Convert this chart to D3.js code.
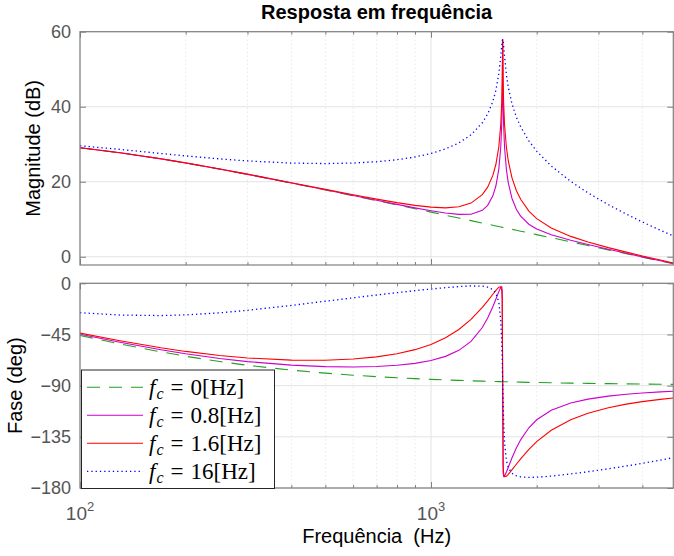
<!DOCTYPE html>
<html>
<head>
<meta charset="utf-8">
<script src="https://cdn.jsdelivr.net/npm/d3@7"></script>
<style>
  body { margin: 0; background: #fff; }
  svg { display: block; }
</style>
</head>
<body>
<div id="chart"></div>
<script>

// frequency points (Hz), dense around the 1.6 kHz resonance
var freqs = [100, 130, 170, 200, 250, 300, 400, 500, 600, 700, 800, 900, 1000, 1100, 1200, 1300, 1400, 1450,
  1500, 1530, 1560, 1580, 1590, 1595, 1600, 1605, 1610, 1620, 1640, 1660, 1700, 1750, 1800, 1900, 2000,
  2200, 2500, 2800, 3200, 3600, 4000, 4500, 4900];

// magnitude (dB)
var magFc0 = [29.06, 27.73, 26.10, 25.00, 23.37, 21.96, 19.65, 17.80, 16.26, 14.95, 13.81, 12.80, 11.90, 11.07,
  10.32, 9.63, 8.99, 8.69, 8.40, 8.22, 8.06, 7.95, 7.89, 7.87, 7.84, 7.81, 7.78, 7.73, 7.62, 7.52, 7.31, 7.06,
  6.82, 6.35, 5.90, 5.08, 3.97, 2.99, 1.83, 0.81, -0.11, -1.13, -1.87];
var magFc08 = [29.06, 27.73, 26.10, 25.01, 23.38, 21.97, 19.68, 17.84, 16.33, 15.06, 13.97, 13.04, 12.27, 11.65,
  11.29, 11.34, 12.38, 13.71, 16.24, 18.86, 23.38, 29.24, 35.18, 41.14, 58.0, 41.10, 35.14, 29.13, 23.15, 19.72,
  15.60, 12.66, 10.83, 8.68, 7.42, 5.88, 4.38, 3.25, 1.99, 0.92, -0.03, -1.07, -1.82];
var magFc16 = [29.07, 27.74, 26.12, 25.02, 23.41, 22.02, 19.75, 17.97, 16.53, 15.36, 14.42, 13.70, 13.22, 13.04,
  13.32, 14.31, 16.57, 18.56, 21.69, 24.59, 29.29, 35.22, 41.13, 46.90, 58.0, 46.86, 41.08, 35.11, 29.08, 25.54,
  21.11, 17.67, 15.32, 12.19, 10.17, 7.65, 5.43, 3.94, 2.44, 1.24, 0.21, -0.89, -1.68];
var magFc160 = [29.60, 28.62, 27.53, 26.89, 26.09, 25.54, 24.98, 24.84, 24.98, 25.33, 25.87, 26.59, 27.54, 28.75,
  30.34, 32.51, 35.72, 38.06, 41.40, 44.32, 48.75, 53.42, 56.34, 57.54, 58.0, 57.48, 56.25, 53.28, 48.50, 45.22,
  40.83, 37.24, 34.64, 30.88, 28.15, 24.20, 20.08, 17.03, 13.88, 11.37, 9.27, 7.07, 5.55];

// phase (deg)
var phaseFc0 = [-45.87, -53.27, -60.29, -64.13, -68.80, -72.08, -76.37, -79.02, -80.82, -82.11, -83.09, -83.85,
  -84.46, -84.96, -85.38, -85.73, -86.04, -86.17, -86.30, -86.37, -86.44, -86.49, -86.51, -86.52, -86.53, -86.54,
  -86.55, -86.57, -86.61, -86.66, -86.73, -86.83, -86.92, -87.08, -87.22, -87.48, -87.78, -88.02, -88.26, -88.46,
  -88.61, -88.77, -88.87];
var phaseFc08 = [-44.82, -51.91, -58.50, -62.01, -66.13, -68.84, -71.93, -73.27, -73.58, -73.16, -72.11, -70.42,
  -67.89, -64.25, -58.96, -51.02, -38.86, -30.55, -20.63, -14.04, -7.33, -3.49, -3.10, -5.97, -86.53, -167.06,
  -169.96, -169.61, -165.93, -161.76, -153.66, -144.87, -137.64, -127.04, -119.99, -111.59, -105.22, -101.85,
  -99.21, -97.58, -96.48, -95.50, -94.92];
var phaseFc16 = [-43.78, -50.54, -56.71, -59.90, -63.47, -65.63, -67.58, -67.66, -66.62, -64.69, -61.96, -58.35,
  -53.74, -47.90, -40.63, -31.68, -21.14, -15.42, -9.61, -6.27, -3.45, -3.08, -5.94, -13.26, -86.53, -159.76,
  -167.07, -169.97, -169.66, -168.04, -164.10, -159.11, -154.39, -146.09, -139.27, -129.26, -119.91, -114.21,
  -109.39, -106.26, -104.05, -102.05, -100.84];
var phaseFc160 = [-25.87, -27.90, -28.38, -27.79, -25.98, -23.76, -19.45, -15.77, -12.76, -10.29, -8.23, -6.50,
  -5.03, -3.82, -2.88, -2.31, -2.54, -3.35, -5.54, -8.67, -16.58, -32.43, -51.86, -67.49, -86.53, -105.51,
  -121.01, -140.30, -156.02, -162.14, -167.07, -169.31, -170.22, -170.68, -170.50, -169.53, -167.65, -165.69,
  -163.12, -160.65, -158.28, -155.46, -153.31];

var fcLabels = ["0", "0.8", "1.6", "16"];
var magTicks = [0, 20, 40, 60];
var phaseTicks = [0, -45, -90, -135, -180];
var decadeTicks = [100, 1000];
var decadeExp = ["2", "3"];
var minorTicks = [200, 300, 400, 500, 600, 700, 800, 900, 2000, 3000, 4000];

var magSeries = [magFc0, magFc08, magFc16, magFc160];
var phaseSeries = [phaseFc0, phaseFc08, phaseFc16, phaseFc160];

var styles = [
  {color: "#22a022", dash: "13,9", width: 1.1},
  {color: "#cc00cc", dash: null, width: 1.1},
  {color: "#ff0000", dash: null, width: 1.1},
  {color: "#0000ff", dash: "1.3,3", width: 1.3}
];

var width = 674, height = 556,
  left = 80, right = 673.3,
  axisGray = "#7f7f7f", labelGray = "#555",
  sansFont = "'Liberation Sans', Arial, sans-serif";

var x = d3.scaleLog().domain([100, 4900]).range([left, right]);
var yMag = d3.scaleLinear().domain([-2.2, 60]).range([265, 31.7]);
var yPhase = d3.scaleLinear().domain([-180, 0]).range([488, 283.3]);

var svg = d3.select("#chart").append("svg")
  .attr("width", width)
  .attr("height", height);

function panel(id, y, yTicks, values, xLabels) {
  var top = y.range()[1], bottom = y.range()[0];
  var g = svg.append("g");

  // grid
  g.append("g").selectAll("line").data(minorTicks).join("line")
    .attr("x1", d => x(d)).attr("x2", d => x(d))
    .attr("y1", top).attr("y2", bottom)
    .attr("stroke", "#d4d4d4").attr("stroke-width", 0.8).attr("stroke-dasharray", "1,3");
  g.append("g").selectAll("line").data(decadeTicks).join("line")
    .attr("x1", d => x(d)).attr("x2", d => x(d))
    .attr("y1", top).attr("y2", bottom)
    .attr("stroke", "#e3e3e3");
  g.append("g").selectAll("line").data(yTicks).join("line")
    .attr("x1", left).attr("x2", right)
    .attr("y1", d => y(d)).attr("y2", d => y(d))
    .attr("stroke", "#e3e3e3");

  svg.append("clipPath").attr("id", id)
    .append("rect")
    .attr("x", left).attr("y", top)
    .attr("width", right - left).attr("height", bottom - top);

  var line = d3.line()
    .x((d, i) => x(freqs[i]))
    .y(d => y(d));

  g.append("g").attr("clip-path", "url(#" + id + ")")
    .selectAll("path").data(values).join("path")
    .attr("d", d => line(d))
    .attr("fill", "none")
    .attr("stroke", (d, i) => styles[i].color)
    .attr("stroke-width", (d, i) => styles[i].width)
    .attr("stroke-dasharray", (d, i) => styles[i].dash);

  // ticks on all four sides, pointing in
  var yl = g.append("g").attr("transform", "translate(" + left + ",0)")
    .call(d3.axisLeft(y).tickValues(yTicks).tickSize(-6).tickPadding(9).tickSizeOuter(0));
  g.append("g").attr("transform", "translate(" + right + ",0)")
    .call(d3.axisRight(y).tickValues(yTicks).tickSize(-6).tickSizeOuter(0).tickFormat(""));
  [top, bottom].forEach(function (yy) {
    var major = yy === top ? d3.axisTop(x).tickSize(-6) : d3.axisBottom(x).tickSize(-6);
    var minor = yy === top ? d3.axisTop(x).tickSize(-3) : d3.axisBottom(x).tickSize(-3);
    g.append("g").attr("transform", "translate(0," + yy + ")")
      .call(major.tickValues(decadeTicks).tickSizeOuter(0).tickFormat(""));
    g.append("g").attr("transform", "translate(0," + yy + ")")
      .call(minor.tickValues(minorTicks).tickSizeOuter(0).tickFormat(""));
  });
  g.selectAll(".domain").remove();
  g.selectAll(".tick line").attr("stroke", axisGray);
  yl.selectAll(".tick text")
    .attr("fill", labelGray)
    .attr("font-family", sansFont)
    .attr("font-size", 18);

  g.append("rect")
    .attr("x", left).attr("y", top)
    .attr("width", right - left).attr("height", bottom - top)
    .attr("fill", "none")
    .attr("stroke", axisGray)
    .attr("stroke-width", 1.2);

  if (xLabels) {
    var lab = g.append("g").selectAll("text").data(decadeTicks).join("text")
      .attr("x", d => x(d))
      .attr("y", bottom + 32)
      .attr("text-anchor", "middle")
      .attr("fill", labelGray)
      .attr("font-family", sansFont)
      .attr("font-size", 19);
    lab.append("tspan").text("10");
    lab.append("tspan").attr("dy", -9).attr("font-size", 13).text((d, i) => decadeExp[i]);
  }
  return g;
}

panel("clipMag", yMag, magTicks, magSeries, false);
var bottomPanel = panel("clipPhase", yPhase, phaseTicks, phaseSeries, true);

// legend
var legend = bottomPanel.append("g");
legend.append("rect")
  .attr("x", 81.5).attr("y", 370)
  .attr("width", 193).attr("height", 118.5)
  .attr("fill", "#fff")
  .attr("stroke", "#262626")
  .attr("stroke-width", 1);

var rows = legend.selectAll("g.row").data(fcLabels).join("g")
  .attr("class", "row")
  .attr("transform", (d, i) => "translate(0," + (387.3 + i * 28) + ")");
rows.append("line")
  .attr("x1", 87).attr("x2", 143)
  .attr("stroke", (d, i) => styles[i].color)
  .attr("stroke-width", (d, i) => styles[i].width)
  .attr("stroke-dasharray", (d, i) => styles[i].dash);
var lt = rows.append("text")
  .attr("x", 149).attr("y", 8)
  .attr("font-family", "'Liberation Serif', 'Times New Roman', serif")
  .attr("font-size", 23)
  .attr("fill", "#000");
lt.append("tspan").attr("font-style", "italic").text("f");
lt.append("tspan").attr("font-style", "italic").attr("font-size", 16).attr("dx", 1).attr("dy", 4).text("c");
lt.append("tspan").attr("dx", 7).attr("dy", -4).text("=");
lt.append("tspan").attr("dx", 7).text(d => d + "[Hz]");

// labels
svg.append("text")
  .attr("x", (left + right) / 2).attr("y", 19)
  .attr("text-anchor", "middle")
  .attr("font-family", sansFont)
  .attr("font-weight", "bold")
  .attr("font-size", 20)
  .text("Resposta em frequência");

svg.append("text")
  .attr("x", (left + right) / 2).attr("y", 543)
  .attr("text-anchor", "middle")
  .attr("font-family", sansFont)
  .attr("font-size", 20)
  .text("Frequência  (Hz)")
  .style("white-space", "pre");

svg.append("text")
  .attr("transform", "translate(40," + (yMag.range()[0] + yMag.range()[1]) / 2 + ") rotate(-90)")
  .attr("text-anchor", "middle")
  .attr("font-family", sansFont)
  .attr("font-size", 20)
  .text("Magnitude (dB)");

svg.append("text")
  .attr("transform", "translate(22," + (yPhase.range()[0] + yPhase.range()[1]) / 2 + ") rotate(-90)")
  .attr("text-anchor", "middle")
  .attr("font-family", sansFont)
  .attr("font-size", 20)
  .text("Fase (deg)");

</script>
</body>
</html>
